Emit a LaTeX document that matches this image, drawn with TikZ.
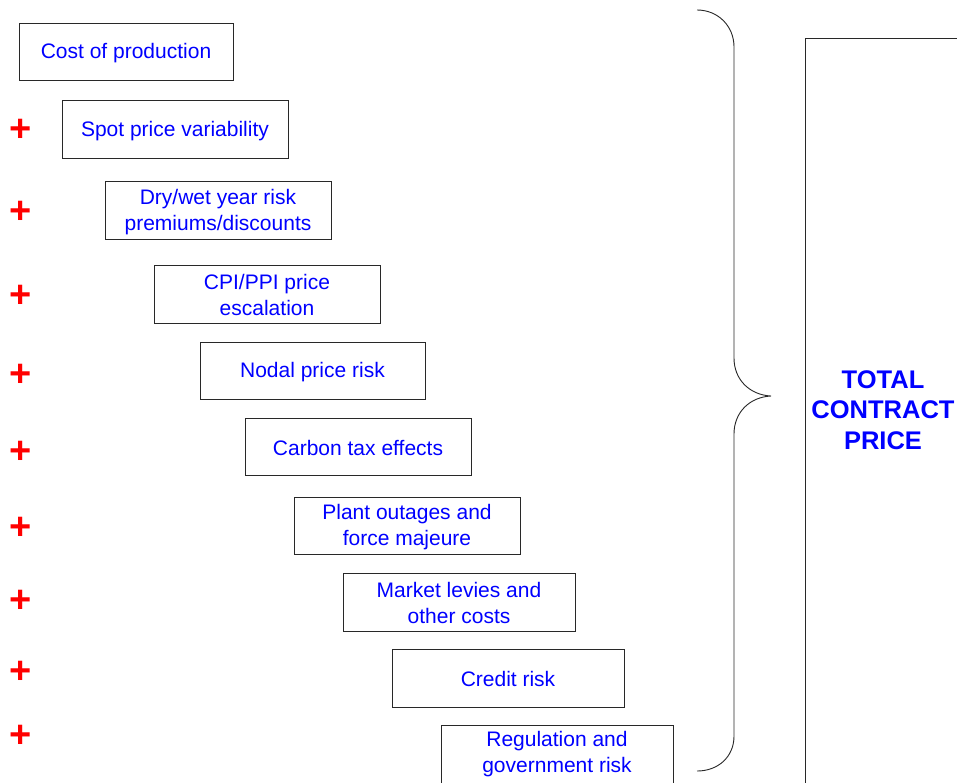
\documentclass[tikz,border=0pt]{standalone}
\usepackage{fontspec}
\setmainfont{Liberation Sans}
\definecolor{txtblue}{RGB}{0,0,255}
\definecolor{plusred}{RGB}{255,0,0}
\definecolor{linegray}{RGB}{40,40,40}
\begin{document}
\begin{tikzpicture}[x=1pt,y=-1pt,
  itembox/.style={draw=linegray, line width=0.9pt, inner sep=0pt},
  itemtext/.style={inner sep=0pt, align=center, text=txtblue, font=\fontsize{21}{26}\selectfont},
  plussign/.style={text=plusred, inner sep=0pt, font=\fontsize{38}{38}\selectfont\bfseries},
  bracepath/.style={draw=linegray, line width=0.9pt},
  totaltext/.style={text=txtblue, align=center, inner sep=0pt, font=\fontsize{25.5}{30.5}\selectfont\bfseries}]
\useasboundingbox (0,0) rectangle (957,782);
\fill[white] (0,0) rectangle (957,782);

\node[itembox, minimum width=214pt, minimum height=57pt] (b1) at (126,51.5) {};
\node[itembox, minimum width=226pt, minimum height=58pt] (b2) at (175,129) {};
\node[itembox, minimum width=226pt, minimum height=58pt] (b3) at (218,210) {};
\node[itembox, minimum width=226pt, minimum height=58pt] (b4) at (267,294) {};
\node[itembox, minimum width=225pt, minimum height=57pt] (b5) at (312.5,370.5) {};
\node[itembox, minimum width=226pt, minimum height=57pt] (b6) at (358,446.5) {};
\node[itembox, minimum width=226pt, minimum height=57pt] (b7) at (407,525.5) {};
\node[itembox, minimum width=232pt, minimum height=58pt] (b8) at (459,602) {};
\node[itembox, minimum width=232pt, minimum height=58pt] (b9) at (508,678) {};
\node[itembox, minimum width=232pt, minimum height=58pt] (b10) at (557,754) {};

\node[itemtext] (t1) at ([yshift=-2pt]b1.center) {Cost of production};
\node[itemtext] (t2) at ([yshift=-2pt]b2.center) {Spot price variability};
\node[itemtext] (t3) at ([yshift=-2.5pt]b3.center) {Dry/wet year risk\\premiums/discounts};
\node[itemtext] (t4) at ([yshift=-1pt]b4.center) {CPI/PPI price\\escalation};
\node[itemtext] (t5) at ([yshift=-2pt]b5.center) {Nodal price risk};
\node[itemtext] (t6) at ([yshift=-1pt]b6.center) {Carbon tax effects};
\node[itemtext] (t7) at ([yshift=-1.5pt]b7.center) {Plant outages and\\force majeure};
\node[itemtext] (t8) at ([yshift=-1pt]b8.center) {Market levies and\\other costs};
\node[itemtext] (t9) at ([yshift=-1pt]b9.center) {Credit risk};
\node[itemtext] (t10) at ([yshift=-0.5pt]b10.center) {Regulation and\\government risk};

\node[plussign] (p2) at (20.5,130.5) {+};
\node[plussign] (p3) at (20.5,212.5) {+};
\node[plussign] (p4) at (20.5,296.5) {+};
\node[plussign] (p5) at (20.5,375.5) {+};
\node[plussign] (p6) at (20.5,452.5) {+};
\node[plussign] (p7) at (20.5,528.5) {+};
\node[plussign] (p8) at (20.5,601.5) {+};
\node[plussign] (p9) at (20.5,672.5) {+};
\node[plussign] (p10) at (20.5,736.5) {+};

\path[bracepath] (697,10) .. controls (718,10) and (734,26) .. (734,47)
  -- (734,358) .. controls (734,380) and (750,395) .. (771,396)
  .. controls (750,397) and (734,412) .. (734,434)
  -- (734,736) .. controls (734,757) and (718,771) .. (697,771);

\draw[draw=linegray, line width=0.9pt] (970,38) -- (805,38) -- (805,800);
\node[totaltext] (total) at (883,410) {TOTAL\\CONTRACT\\PRICE};
\end{tikzpicture}
\end{document}
